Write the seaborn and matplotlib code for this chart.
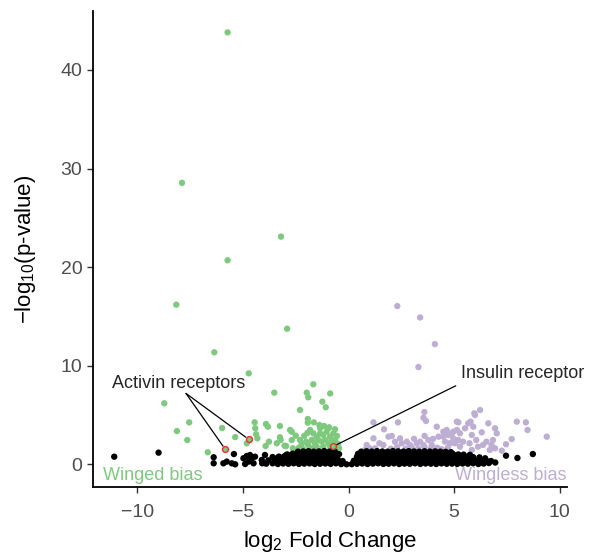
import matplotlib
matplotlib.use("Agg")
import matplotlib.pyplot as plt
import pandas as pd
import seaborn as sns

# Winged-biased genes (green)
winged_x = [-5.73, -7.89, -3.20, -5.73, -8.16, -2.91, -6.36, -4.73, -3.52, -1.98,
            -1.67, -1.91, -1.24, -1.08, -0.87, -8.73, -8.13, -7.55, -7.64, -5.99,
            -5.37, -6.67, -4.82, -4.45, -4.42, -4.38, -4.32, -3.91, -3.82, -3.25,
            -3.25, -3.22, -3.77, -2.96, -3.40, -3.93, -2.69, -2.69, -2.77, -2.50,
            -2.30, -2.30, -2.22, -2.01, -1.93, -1.93, -1.64, -1.38, -1.16, -0.92,
            -0.64, -3.03, -2.64, -1.82, -1.67, -1.51, -1.35, -1.20, -1.04, -0.88,
            -0.72, -1.74, -1.59, -1.43, -1.27, -1.11, -0.96, -0.80, -0.64, -1.91,
            -1.74, -1.51, -1.20, -0.88, -0.64, -1.35, -0.96, -2.10, -1.95, -2.35,
            -2.15, -0.50, -0.45, -0.55]
winged_y = [43.8, 28.55, 23.1, 20.7, 16.2, 13.76, 11.37, 9.24, 7.28, 7.28,
            8.13, 6.81, 6.37, 5.8, 7.2, 6.2, 3.39, 4.27, 2.48, 3.70,
            2.78, 1.24, 2.15, 4.27, 3.67, 3.06, 2.65, 4.10, 3.83, 3.90,
            2.76, 2.48, 2.31, 1.87, 2.15, 1.87, 2.48, 3.32, 3.5, 2.92,
            5.52, 2.48, 2.05, 2.31, 4.61, 4.24, 4.27, 4.0, 3.90, 3.77,
            3.57, 1.9, 1.64, 3.50, 3.16, 2.82, 3.16, 2.99, 3.32, 2.82,
            3.16, 2.48, 2.15, 2.48, 2.31, 2.48, 2.15, 2.48, 2.48, 1.98,
            1.64, 1.80, 1.80, 1.80, 1.80, 3.67, 3.67, 2.9, 3.2, 1.7,
            1.55, 2.1, 1.65, 2.9]

# Wingless-biased genes (purple)
wingless_x = [2.31, 3.39, 4.09, 3.31, 1.18, 2.34, 3.59, 3.67, 3.55, 1.68,
              1.89, 2.05, 1.18, 1.46, 1.65, 1.26, 0.86, 1.00, 0.78, 2.44,
              2.52, 2.76, 2.91, 3.23, 3.39, 3.55, 3.78, 3.94, 4.18, 4.26,
              4.49, 4.65, 4.73, 4.89, 4.96, 5.13, 4.57, 4.81, 5.05, 5.20,
              5.13, 6.23, 5.99, 5.96, 5.20, 5.67, 5.78, 6.62, 6.94, 7.02,
              7.97, 8.40, 8.48, 9.39, 7.73, 7.46, 7.26, 6.31, 5.91, 5.84,
              5.52, 5.28, 4.96, 4.65, 4.49, 6.53, 6.77, 6.84, 6.37, 6.05,
              6.13, 5.73, 5.42, 5.13, 4.81, 5.28, 5.84, 6.69, 6.94, 2.00,
              2.30, 2.70, 3.00, 3.30, 3.60, 3.90, 4.20, 4.40, 4.70, 3.10,
              3.60, 4.00, 2.20]
wingless_y = [16.06, 14.9, 12.2, 9.88, 4.27, 4.27, 5.32, 4.41, 4.74, 3.57,
              2.82, 2.89, 2.65, 2.15, 1.98, 1.64, 1.98, 1.64, 1.47, 2.65,
              2.15, 2.31, 1.98, 2.15, 2.31, 1.98, 2.48, 1.98, 3.83, 2.82,
              3.32, 3.50, 2.99, 3.16, 2.65, 3.50, 2.31, 2.15, 2.15, 2.48,
              4.34, 5.52, 5.02, 5.19, 4.27, 4.17, 4.34, 4.17, 3.67, 3.16,
              4.34, 4.27, 3.50, 2.82, 2.58, 2.05, 1.40, 3.26, 3.83, 2.99,
              3.67, 3.16, 3.32, 3.16, 2.82, 2.31, 1.98, 2.48, 1.98, 2.48,
              1.80, 2.15, 2.31, 2.48, 2.15, 1.80, 1.47, 1.47, 1.64, 1.60,
              1.75, 1.60, 1.70, 1.60, 1.75, 1.60, 1.70, 1.55, 1.70, 2.60,
              2.90, 2.60, 2.30]

# Non-significant genes (black)
ns_x = [-11.1, -9.0, -6.39, -6.39, -5.93, -5.77, -5.53, -5.37, -5.43, -4.98,
        -4.82, -4.67, -4.59, -4.43, -4.74, -4.50, -4.90, -3.96, -4.09, -4.11,
        -3.40, -3.25, -2.95, 7.46, 8.00, 8.73, 6.47, 6.62,
        -3.9, -3.6, -3.35, -3.1, -2.85, -2.6, -2.35, -2.1, -1.85, -1.6,
        -1.35, -1.1, -0.85, -0.6, -0.35, -0.1, 0.15, 0.4, 0.65, 0.9,
        1.15, 1.4, 1.65, 1.9, 2.15, 2.4, 2.65, 2.9, 3.15, 3.4,
        3.65, 3.9, 4.15, 4.4, 4.65, 4.9, 5.15, 5.4, 5.65, 5.9,
        6.15, 6.4, 6.65, 6.95,
        -3.8, -3.5, -3.25, -3.0, -2.75, -2.5, -2.25, -2.0, -1.75, -1.5,
        -1.25, -1.0, -0.75, -0.5, -0.28, 0.25, 0.5, 0.75, 1.0, 1.25,
        1.5, 1.75, 2.0, 2.25, 2.5, 2.75, 3.0, 3.25, 3.5, 3.75,
        4.0, 4.25, 4.5, 4.75, 5.0, 5.25, 5.5, 5.75, 6.0, 6.25,
        6.5, 6.75,
        -3.6, -3.3, -3.05, -2.8, -2.55, -2.3, -2.05, -1.8, -1.55, -1.3,
        -1.05, -0.8, -0.55, 0.4, 0.65, 0.9, 1.15, 1.4, 1.65, 1.9,
        2.15, 2.4, 2.65, 2.9, 3.15, 3.4, 3.65, 3.9, 4.15, 4.4,
        4.65, 4.9, 5.15, 5.4, 5.65, 5.9, 6.2,
        -2.9, -2.65, -2.4, -2.15, -1.9, -1.65, -1.4, -1.15, -0.9, -0.65,
        -0.45, 0.45, 0.7, 0.95, 1.2, 1.45, 1.7, 1.95, 2.2, 2.45,
        2.7, 2.95, 3.2, 3.45, 3.7, 3.95, 4.2, 4.45, 4.7, 4.95,
        5.2, 5.45, 5.75,
        -2.4, -2.15, -1.9, -1.65, -1.4, -1.15, -0.9, -0.65, 0.6, 0.85,
        1.1, 1.35, 1.6, 1.85, 2.1, 2.35, 2.6, 2.85, 3.1, 3.35,
        3.6, 3.85, 4.1, 4.35, 4.6, 4.85]
ns_y = [0.79, 1.2, 0.73, 0.12, 0.12, 0.29, 0.12, 0.02, 1.06, 0.63,
        0.86, 0.96, 0.63, 0.79, 0.29, 0.12, 0.05, 0.96, 0.12, 0.46,
        0.63, 0.46, 0.96, 0.89, 0.66, 1.06, 0.63, 0.29,
        0.08, 0.12, 0.05, 0.1, 0.07, 0.12, 0.06, 0.09, 0.11, 0.05,
        0.08, 0.1, 0.06, 0.12, 0.04, 0.02, 0.03, 0.07, 0.1, 0.05,
        0.09, 0.12, 0.06, 0.08, 0.11, 0.05, 0.09, 0.07, 0.12, 0.06,
        0.1, 0.08, 0.05, 0.11, 0.07, 0.09, 0.06, 0.1, 0.08, 0.12,
        0.05, 0.09, 0.15, 0.2,
        0.42, 0.5, 0.45, 0.4, 0.48, 0.44, 0.46, 0.41, 0.5, 0.43,
        0.47, 0.45, 0.42, 0.49, 0.35, 0.38, 0.46, 0.44, 0.48, 0.42,
        0.47, 0.45, 0.41, 0.5, 0.44, 0.46, 0.43, 0.48, 0.45, 0.42,
        0.47, 0.44, 0.49, 0.43, 0.46, 0.41, 0.48, 0.44, 0.42, 0.47,
        0.4, 0.35,
        0.75, 0.8, 0.82, 0.78, 0.85, 0.8, 0.77, 0.83, 0.79, 0.84,
        0.8, 0.76, 0.82, 0.8, 0.83, 0.78, 0.85, 0.8, 0.77, 0.82,
        0.79, 0.84, 0.81, 0.76, 0.83, 0.8, 0.78, 0.85, 0.8, 0.82,
        0.77, 0.84, 0.79, 0.81, 0.78, 0.75, 0.72,
        1.02, 1.1, 1.08, 1.12, 1.15, 1.1, 1.13, 1.08, 1.12, 1.1,
        1.05, 1.08, 1.12, 1.1, 1.14, 1.09, 1.13, 1.1, 1.15, 1.08,
        1.12, 1.1, 1.13, 1.09, 1.14, 1.1, 1.12, 1.08, 1.11, 1.06,
        1.02, 1.0, 0.98,
        1.3, 1.32, 1.35, 1.3, 1.33, 1.36, 1.31, 1.3, 1.3, 1.34,
        1.31, 1.35, 1.32, 1.3, 1.36, 1.33, 1.31, 1.35, 1.32, 1.3,
        1.34, 1.31, 1.33, 1.3, 1.28, 1.25]

# Highlighted receptors
activin_x = [-5.85, -4.73]
activin_y = [1.57, 2.55]
insulin_x = [-0.72]
insulin_y = [1.84]

GREEN = "#7fc97f"
PURPLE = "#beaed4"


def main() -> None:
    sns.set_theme(style="ticks")
    plt.rcParams["font.family"] = ["Liberation Sans", "DejaVu Sans"]
    plt.rcParams["mathtext.default"] = "regular"

    genes = pd.concat([
        pd.DataFrame({"lfc": winged_x, "p": winged_y, "group": "winged"}),
        pd.DataFrame({"lfc": wingless_x, "p": wingless_y, "group": "wingless"}),
        pd.DataFrame({"lfc": ns_x, "p": ns_y, "group": "ns"}),
    ], ignore_index=True)
    palette = {"winged": GREEN, "wingless": PURPLE, "ns": "black"}

    fig = plt.figure(figsize=(5.89, 5.56), dpi=100)
    ax = fig.add_axes([0.1574, 0.1236, 0.8053, 0.8572])
    sns.scatterplot(data=genes, x="lfc", y="p", hue="group", palette=palette,
                    s=21, linewidth=0, legend=False, ax=ax)
    ax.scatter(activin_x + insulin_x, activin_y + insulin_y, s=18,
               facecolors=GREEN, edgecolors="#e8322b", linewidths=1.0, zorder=4)

    # annotations
    ax.text(-11.22, 8.16, "Activin receptors", fontsize=13, va="center", ha="left")
    for px, py in zip(activin_x, activin_y):
        ax.annotate("", xy=(px, py), xytext=(-7.7, 7.2),
                    arrowprops=dict(arrowstyle="-", lw=0.9, color="black", shrinkA=0, shrinkB=2.5))
    ax.text(5.33, 9.27, "Insulin receptor", fontsize=13, va="center", ha="left")
    ax.annotate("", xy=(insulin_x[0], insulin_y[0]), xytext=(5.08, 7.98),
                arrowprops=dict(arrowstyle="-", lw=0.9, color="black", shrinkA=0, shrinkB=2.5))
    ax.text(-11.65, -1.11, "Winged bias", fontsize=13, color=GREEN, va="center", ha="left")
    ax.text(10.33, -1.11, "Wingless bias", fontsize=13, color=PURPLE, va="center", ha="right")

    ax.set_xlim(-12.12, 10.35)
    ax.set_ylim(-2.31, 46.0)
    ax.set_xticks([-10, -5, 0, 5, 10])
    ax.set_yticks([0, 10, 20, 30, 40])
    ax.set_xlabel("log$_2$ Fold Change", fontsize=16, color="black", labelpad=6)
    ax.set_ylabel("\u2212log$_{10}$(p-value)", fontsize=16, color="black", labelpad=16)
    ax.tick_params(axis="both", labelsize=14, labelcolor="#4d4d4d", color="#333333",
                   length=4, width=1.0, direction="out")
    ax.tick_params(axis="x", pad=8)
    for side in ["top", "right"]:
        ax.spines[side].set_visible(False)
    for side in ["left", "bottom"]:
        ax.spines[side].set_color("black")
        ax.spines[side].set_linewidth(1.3)

    fig.savefig("out.png", dpi=100)
    plt.close(fig)


if __name__ == "__main__":
    main()
